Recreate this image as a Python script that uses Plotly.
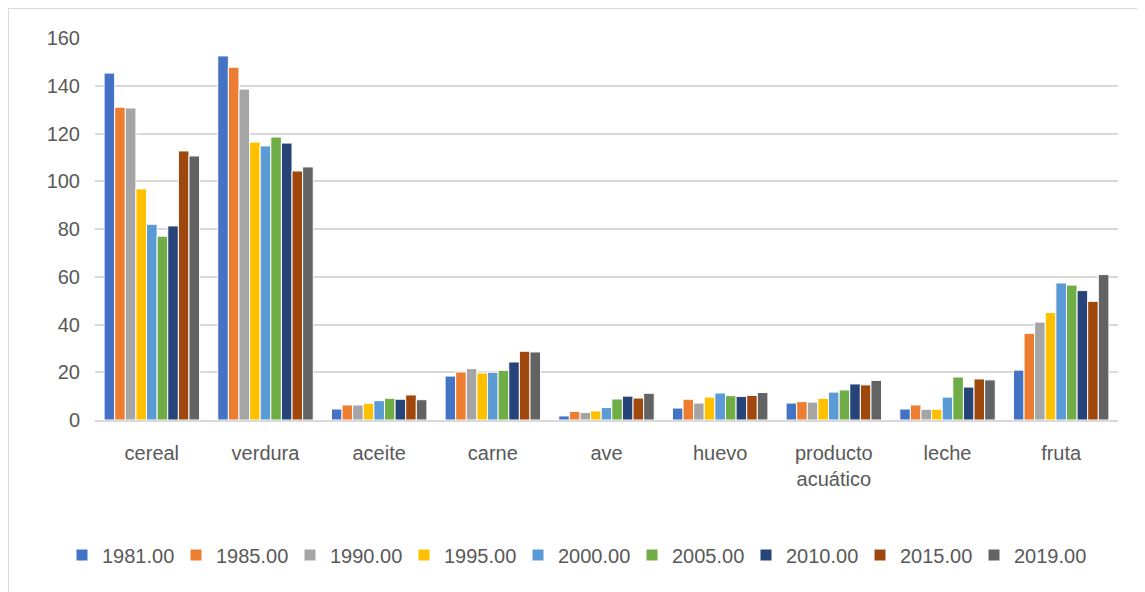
import plotly.graph_objects as go

categories = ["cereal", "verdura", "aceite", "carne", "ave", "huevo", "producto<br>acuático", "leche", "fruta"]
years = ["1981.00", "1985.00", "1990.00", "1995.00", "2000.00", "2005.00", "2010.00", "2015.00", "2019.00"]
colors = ["#4472C4", "#ED7D31", "#A5A5A5", "#FFC000", "#5B9BD5", "#70AD47", "#264478", "#9E480E", "#636363"]

v1981 = [145.3, 152.5, 4.6, 18.4, 1.7, 5.0, 7.1, 4.6, 20.9]
v1985 = [131.0, 147.8, 6.3, 20.1, 3.6, 8.7, 7.7, 6.3, 36.3]
v1990 = [130.7, 138.6, 6.3, 21.5, 3.2, 7.1, 7.5, 4.5, 41.0]
v1995 = [96.8, 116.4, 7.0, 19.7, 3.8, 9.6, 9.1, 4.5, 45.0]
v2000 = [82.0, 114.8, 8.1, 20.0, 5.2, 11.3, 11.7, 9.6, 57.4]
v2005 = [77.0, 118.5, 9.1, 20.8, 8.8, 10.2, 12.6, 18.0, 56.5]
v2010 = [81.3, 116.0, 8.7, 24.3, 10.0, 9.9, 15.1, 13.8, 54.2]
v2015 = [112.7, 104.3, 10.5, 28.8, 9.2, 10.3, 14.7, 17.2, 49.7]
v2019 = [110.6, 106.0, 8.5, 28.5, 11.2, 11.5, 16.6, 16.8, 60.9]
series = [v1981, v1985, v1990, v1995, v2000, v2005, v2010, v2015, v2019]

fig = go.Figure()
for name, vals, col in zip(years, series, colors):
    fig.add_trace(go.Bar(x=categories, y=vals, name=name,
                         marker=dict(color=col, line=dict(color="white", width=1))))

font_fam = "Liberation Sans, Arial, sans-serif"
ML, MT, PW, PH = 87, 30, 1023, 382
W, H = 1145, 592
MR = W - ML - PW
MB = H - MT - PH

fig.update_layout(
    width=W, height=H,
    paper_bgcolor="white", plot_bgcolor="white",
    margin=dict(l=ML, r=MR, t=MT, b=MB),
    barmode="group", bargap=0.16, bargroupgap=0,
    font=dict(family=font_fam, size=20, color="#595959"),
    xaxis=dict(showline=True, linecolor="#d9d9d9", linewidth=1.5, ticks="",
               tickfont=dict(size=20, color="#595959"), showgrid=False,
               ticklabelstandoff=14),
    yaxis=dict(range=[0, 160], dtick=20, showgrid=True, gridcolor="#d9d9d9", gridwidth=1.5,
               zeroline=False, ticks="", tickfont=dict(size=20, color="#595959"),
               ticklabelstandoff=14),
    legend=dict(orientation="h", xref="container", yref="container",
                x=567 / W, xanchor="center", y=1 - 547 / H, yanchor="middle",
                font=dict(size=20, color="#595959"), traceorder="normal",
                itemwidth=30, entrywidth=69),
    shapes=[dict(type="rect", xref="paper", yref="paper",
                 x0=(0.5 - ML) / PW, x1=(1130 - ML) / PW,
                 y0=-(MB + 10) / PH, y1=1 + (MT - 0.5) / PH,
                 line=dict(color="#d9d9d9", width=1))],
)

fig.write_html("out.html")
